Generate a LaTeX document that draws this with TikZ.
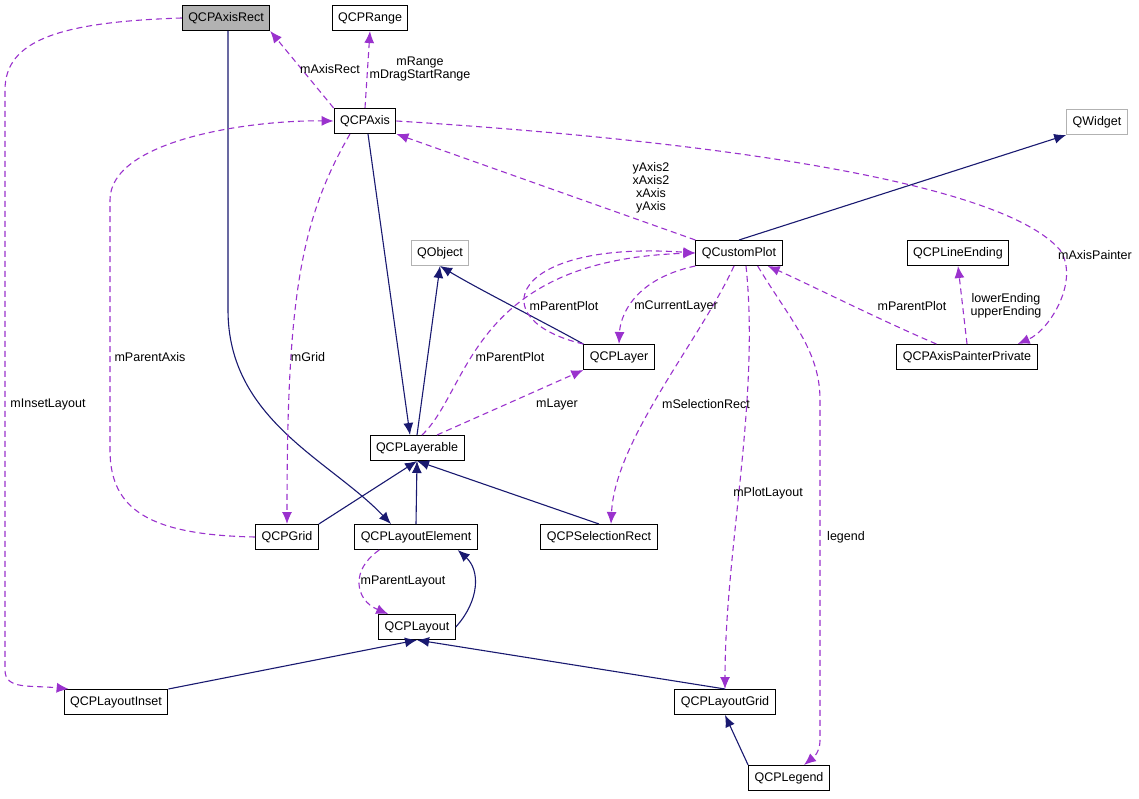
\documentclass[tikz,border=0pt]{standalone}
\usepackage{fontspec}
\setmainfont{Liberation Sans}
\usetikzlibrary{arrows.meta}
\definecolor{inh}{HTML}{191970}
\definecolor{use}{HTML}{9A32CD}
\tikzset{
  cls/.style={draw, line width=1pt, fill=white, inner xsep=6pt, minimum height=25pt, font=\fontsize{12.5}{14}\selectfont},
  ext/.style={cls, draw=black!30},
  inherit/.style={draw=inh, line width=1.1pt, -{Latex[length=12pt,width=10pt,fill=inh]}},
  uses/.style={draw=use, line width=1.1pt, dash pattern=on 6pt off 4pt, -{Latex[length=12pt,width=10pt,fill=use]}},
  lbl/.style={font=\fontsize{12.5}{13}\selectfont, align=center, inner sep=1pt}
}
\begin{document}
\begin{tikzpicture}[x=1pt,y=-1pt]
    \useasboundingbox (0,0) rectangle (1139,799);
    \node[cls, fill=black!30] (axisrect) at (226,18) {QCPAxisRect};
    \node[cls] (range) at (370,18) {QCPRange};
    \node[cls] (axis) at (365,121) {QCPAxis};
    \node[ext] (widget) at (1097,122) {QWidget};
    \node[ext] (object) at (440,253) {QObject};
    \node[cls] (plot) at (739,253) {QCustomPlot};
    \node[cls] (ending) at (958,253) {QCPLineEnding};
    \node[cls] (layer) at (619,357) {QCPLayer};
    \node[cls] (painter) at (967,357) {QCPAxisPainterPrivate};
    \node[cls] (layerable) at (417,448) {QCPLayerable};
    \node[cls] (grid) at (287,537) {QCPGrid};
    \node[cls] (element) at (416,537) {QCPLayoutElement};
    \node[cls] (selrect) at (599,537) {QCPSelectionRect};
    \node[cls] (layout) at (417,627) {QCPLayout};
    \node[cls] (inset) at (116,702) {QCPLayoutInset};
    \node[cls] (lgrid) at (725,702) {QCPLayoutGrid};
    \node[cls] (legend) at (789,778) {QCPLegend};
    % inheritance
    \coordinate (lnorth) at ([xshift=-7pt]layerable.north);
    \draw[inherit] ([xshift=3pt]axis.south) -- (lnorth);
    \draw[inherit] (layerable.north) -- (object.south);
    \draw[inherit] (layer.north west) .. controls (540,320) and (480,290) .. (object.south);
    \draw[inherit] (plot.north) -- (widget.south west);
    \draw[inherit] ([xshift=2pt]axisrect.south) -- (228,310) .. controls (228,420) and (330,460) .. ([xshift=-25pt]element.north);
    \draw[inherit] (grid.north east) -- (layerable.south);
    \draw[inherit] (element.north) -- (layerable.south);
    \draw[inherit] (selrect.north) -- (layerable.south);
    \draw[inherit] (layout.east) .. controls (480,600) and (480,570) .. ([xshift=-20pt]element.south east);
    \draw[inherit] (inset.north east) -- (layout.south);
    \draw[inherit] (lgrid.north) -- (layout.south);
    \draw[inherit] (legend.north west) -- (lgrid.south);
    % usage
    \draw[uses] (axis.north west) -- (axisrect.south east);
    \draw[uses] (axis.north) -- (range.south);
    \draw[uses] (plot.north west) -- (axis.south east);
    \draw[uses] (axis.east) .. controls (700,140) and (1000,180) .. (1060,250) .. controls (1080,280) and (1050,330) .. ([xshift=-20pt]painter.north east);
    \draw[uses] (axisrect.west) .. controls (60,22) and (5,40) .. (5,90) -- (5,670) .. controls (5,690) and (30,685) .. ([xshift=5pt]inset.north west);
    \draw[uses] (grid.west) .. controls (150,535) and (110,510) .. (110,450) -- (110,200) .. controls (110,140) and (250,120) .. (axis.west);
    \draw[uses] ([xshift=-15pt]axis.south) .. controls (300,220) and (287,300) .. (grid.north);
    \draw[uses] ([xshift=5pt]layerable.north) .. controls (470,390) and (470,260) .. (plot.west);
    \draw[uses] (layer.north west) .. controls (480,320) and (510,240) .. (plot.west);
    \draw[uses] (plot.south west) .. controls (630,280) and (620,320) .. (layer.north);
    \draw[uses] ([xshift=20pt]layerable.north) -- (layer.south west);
    \draw[uses] ([xshift=-5pt]plot.south) .. controls (700,340) and (615,440) .. ([xshift=12pt]selrect.north);
    \draw[uses] ([xshift=7pt]plot.south) .. controls (760,400) and (725,550) .. (lgrid.north);
    \draw[uses] ([xshift=-25pt]plot.south east) .. controls (790,320) and (820,350) .. (820,400) -- (820,740) .. controls (820,755) and (810,760) .. ([xshift=15pt]legend.north);
    \draw[uses] ([xshift=40pt]painter.north west) .. controls (880,320) and (800,280) .. ([xshift=-15pt]plot.south east);
    \draw[uses] (painter.north) -- (ending.south);
    \draw[uses] ([xshift=25pt]element.south west) .. controls (350,570) and (355,600) .. ([xshift=10pt]layout.north west);
    % labels
    \node[lbl] at (330,69) {mAxisRect};
    \node[lbl] at (420,69) {mRange\\mDragStartRange};
    \node[lbl] at (651,188) {yAxis2\\xAxis2\\xAxis\\yAxis};
    \node[lbl] at (1095,255) {mAxisPainter};
    \node[lbl] at (48,404) {mInsetLayout};
    \node[lbl] at (150,357) {mParentAxis};
    \node[lbl] at (308,357) {mGrid};
    \node[lbl] at (510,357) {mParentPlot};
    \node[lbl] at (564,306) {mParentPlot};
    \node[lbl] at (676,306) {mCurrentLayer};
    \node[lbl] at (557,404) {mLayer};
    \node[lbl] at (706,404) {mSelectionRect};
    \node[lbl] at (768,493) {mPlotLayout};
    \node[lbl] at (846,537) {legend};
    \node[lbl] at (912,306) {mParentPlot};
    \node[lbl] at (1006,306) {lowerEnding\\upperEnding};
    \node[lbl] at (403,581) {mParentLayout};
\end{tikzpicture}
\end{document}
